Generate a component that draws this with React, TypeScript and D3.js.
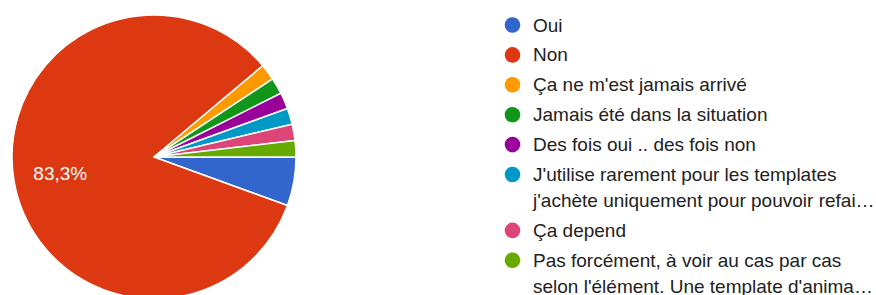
import React, { useEffect, useRef } from 'react';
import * as d3 from 'd3';

// responses per answer (54 total)
const categories = [
  'Oui',
  'Non',
  "Ça ne m'est jamais arrivé",
  'Jamais été dans la situation',
  'Des fois oui .. des fois non',
  'J\'utilise rarement pour les templates',
  'Ça depend',
  'Pas forcément, à voir au cas par cas',
];
const legendLines = [
  ['Oui'],
  ['Non'],
  ["Ça ne m'est jamais arrivé"],
  ['Jamais été dans la situation'],
  ['Des fois oui .. des fois non'],
  ["J'utilise rarement pour les templates", "j'achète uniquement pour pouvoir refai…"],
  ['Ça depend'],
  ['Pas forcément, à voir au cas par cas', "selon l'élément. Une template d'anima…"],
];
const counts = [3, 45, 1, 1, 1, 1, 1, 1];
const colors = ['#3366cc', '#dc3912', '#ff9900', '#109618', '#990099', '#0099c6', '#dd4477', '#66aa00'];

type Slice = { name: string; value: number; color: string };

const App: React.FC = () => {
  const ref = useRef<SVGSVGElement>(null);

  useEffect(() => {
    if (!ref.current) return;
    const width = 876;
    const height = 295;
    const svg = d3.select(ref.current);
    svg.selectAll('*').remove();
    svg.attr('width', width).attr('height', height);

    const cx = 154;
    const cy = 157;
    const radius = 142;
    const total = d3.sum(counts);
    const font = '"Liberation Sans", Arial, sans-serif';

    const data: Slice[] = categories.map((name, i) => ({ name, value: counts[i], color: colors[i] }));

    // starts at 3 o'clock and goes clockwise
    const pie = d3.pie<Slice>()
      .sort(null)
      .value(d => d.value)
      .startAngle(Math.PI / 2)
      .endAngle(Math.PI / 2 + 2 * Math.PI);

    const arc = d3.arc<d3.PieArcDatum<Slice>>()
      .innerRadius(0)
      .outerRadius(radius);

    const g = svg.append('g').attr('transform', `translate(${cx},${cy})`);

    const arcs = pie(data);
    g.selectAll('path')
      .data(arcs)
      .join('path')
      .attr('d', arc)
      .attr('fill', d => d.data.color)
      .attr('stroke', '#fff')
      .attr('stroke-width', 1.5)
      .attr('stroke-linejoin', 'round');

    // only the big slice gets a percentage label
    const labelArc = d3.arc<d3.PieArcDatum<Slice>>()
      .innerRadius(radius * 0.67)
      .outerRadius(radius * 0.67);
    const fmt = (v: number) => ((v / total) * 100).toFixed(1).replace('.', ',') + '%';

    g.selectAll('text.pct')
      .data(arcs.filter(d => d.value / total > 0.1))
      .join('text')
      .attr('class', 'pct')
      .attr('transform', d => `translate(${labelArc.centroid(d)})`)
      .attr('text-anchor', 'middle')
      .attr('dominant-baseline', 'central')
      .attr('fill', '#fff')
      .attr('font-family', font)
      .attr('font-size', 19)
      .text(d => fmt(d.value));

    // legend
    const itemGap = 29.9;
    const lineGap = 26;
    let y = 25;
    const legend = svg.append('g');
    legendLines.forEach((lines, i) => {
      const item = legend.append('g');
      item.append('circle')
        .attr('cx', 512.5)
        .attr('cy', y)
        .attr('r', 7.8)
        .attr('fill', colors[i]);
      lines.forEach((t, j) => {
        item.append('text')
          .attr('x', 533)
          .attr('y', y + j * lineGap)
          .attr('dominant-baseline', 'central')
          .attr('fill', '#222')
          .attr('font-family', font)
          .attr('font-size', 19)
          .text(t);
      });
      y += itemGap + (lines.length - 1) * lineGap;
    });
  }, []);

  return (
    <svg ref={ref} style={{ position: 'absolute', left: 0, top: 0, display: 'block' }} />
  );
};

export default App;
